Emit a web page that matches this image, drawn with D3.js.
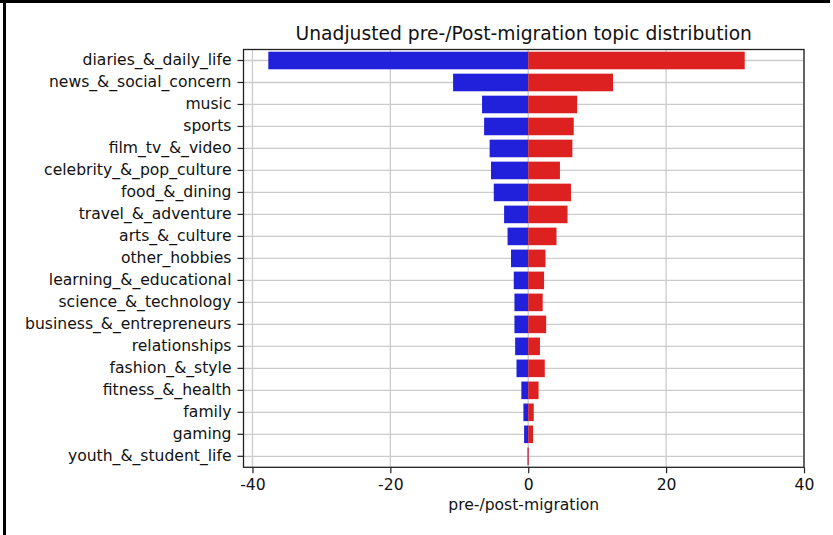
<!DOCTYPE html>
<html>
<head>
<meta charset="utf-8">
<script src="https://cdn.jsdelivr.net/npm/d3@7"></script>
<style>
  body { margin: 0; background: #fff; }
  text { font-family: "DejaVu Sans", sans-serif; fill: #111; }
</style>
</head>
<body>
<div id="main"></div>
<script>
// topics, top to bottom
var topics = ["diaries_&_daily_life", "news_&_social_concern", "music", "sports",
    "film_tv_&_video", "celebrity_&_pop_culture", "food_&_dining", "travel_&_adventure",
    "arts_&_culture", "other_hobbies", "learning_&_educational", "science_&_technology",
    "business_&_entrepreneurs", "relationships", "fashion_&_style", "fitness_&_health",
    "family", "gaming", "youth_&_student_life"];
// pre-migration share (drawn to the left)
var preValues = [-37.7, -10.9, -6.7, -6.4, -5.6, -5.4, -5.0, -3.5, -3.0, -2.5,
    -2.1, -2.0, -2.0, -1.9, -1.7, -1.0, -0.7, -0.6, -0.1];
// post-migration share (drawn to the right)
var postValues = [31.4, 12.3, 7.1, 6.6, 6.4, 4.6, 6.2, 5.7, 4.1, 2.5,
    2.3, 2.1, 2.6, 1.7, 2.4, 1.5, 0.8, 0.7, 0.1];
var xTicks = [-40, -20, 0, 20, 40];
var xDomain = [-41.3, 40];

var ctx = {
    w: 833,
    h: 535,
    left: 243.5,
    right: 804,
    top: 49.5,
    bottom: 467.3,
    blue: "#2121dc",
    red: "#dd2121",
    grid: "#cccccc",
    font: 15.6
};

var svg = d3.select("#main").append("svg")
    .attr("width", ctx.w)
    .attr("height", ctx.h);

// outer frame of the screenshot (left and top only)
svg.append("line").attr("x1", 4.5).attr("x2", 4.5).attr("y1", 0).attr("y2", ctx.h)
    .attr("stroke", "#000").attr("stroke-width", 3);
svg.append("line").attr("x1", 0).attr("x2", 830).attr("y1", 1.5).attr("y2", 1.5)
    .attr("stroke", "#000").attr("stroke-width", 3);

var x = d3.scaleLinear().domain(xDomain).range([ctx.left, ctx.right]);
var y = d3.scaleBand().domain(topics).range([ctx.top, ctx.bottom])
    .paddingInner(0.2).paddingOuter(0.1);

// grid
var grid = svg.append("g");
grid.selectAll(".vg").data(xTicks).enter().append("line")
    .attr("x1", function(d) { return x(d); }).attr("x2", function(d) { return x(d); })
    .attr("y1", ctx.top).attr("y2", ctx.bottom)
    .attr("stroke", ctx.grid).attr("stroke-width", 1.3);
grid.selectAll(".hg").data(topics).enter().append("line")
    .attr("x1", ctx.left).attr("x2", ctx.right)
    .attr("y1", function(d) { return y(d) + y.bandwidth() / 2; })
    .attr("y2", function(d) { return y(d) + y.bandwidth() / 2; })
    .attr("stroke", ctx.grid).attr("stroke-width", 1.3);

// bars
var rows = topics.map(function(t, i) { return { topic: t, pre: preValues[i], post: postValues[i] }; });
svg.append("g").selectAll("rect").data(rows).enter().append("rect")
    .attr("x", function(d) { return x(d.pre); })
    .attr("width", function(d) { return x(0) - x(d.pre); })
    .attr("y", function(d) { return y(d.topic); })
    .attr("height", y.bandwidth())
    .attr("fill", ctx.blue);
svg.append("g").selectAll("rect").data(rows).enter().append("rect")
    .attr("x", x(0))
    .attr("width", function(d) { return x(d.post) - x(0); })
    .attr("y", function(d) { return y(d.topic); })
    .attr("height", y.bandwidth())
    .attr("fill", ctx.red);

// axes
var yAxis = svg.append("g")
    .attr("transform", "translate(" + ctx.left + ",0)")
    .call(d3.axisLeft(y).tickSize(6).tickPadding(6));
var xAxis = svg.append("g")
    .attr("transform", "translate(0," + ctx.bottom + ")")
    .call(d3.axisBottom(x).tickValues(xTicks).tickSize(6).tickPadding(6)
        .tickFormat(function(d) { return String(d); }));
[yAxis, xAxis].forEach(function(a) {
    a.select(".domain").remove();
    a.selectAll("line").attr("stroke", "#222").attr("stroke-width", 1.2);
    a.selectAll("text").attr("font-size", ctx.font).attr("fill", "#111")
        .style("font-family", "DejaVu Sans");
});

// spines
svg.append("rect")
    .attr("x", ctx.left).attr("y", ctx.top)
    .attr("width", ctx.right - ctx.left).attr("height", ctx.bottom - ctx.top)
    .attr("fill", "none").attr("stroke", "#222").attr("stroke-width", 1.3);

// title and axis label
svg.append("text")
    .attr("x", (ctx.left + ctx.right) / 2).attr("y", 39.5)
    .attr("text-anchor", "middle").attr("font-size", 18.7)
    .text("Unadjusted pre-/Post-migration topic distribution");
svg.append("text")
    .attr("x", (ctx.left + ctx.right) / 2).attr("y", 510)
    .attr("text-anchor", "middle").attr("font-size", ctx.font)
    .text("pre-/post-migration");
</script>
</body>
</html>
